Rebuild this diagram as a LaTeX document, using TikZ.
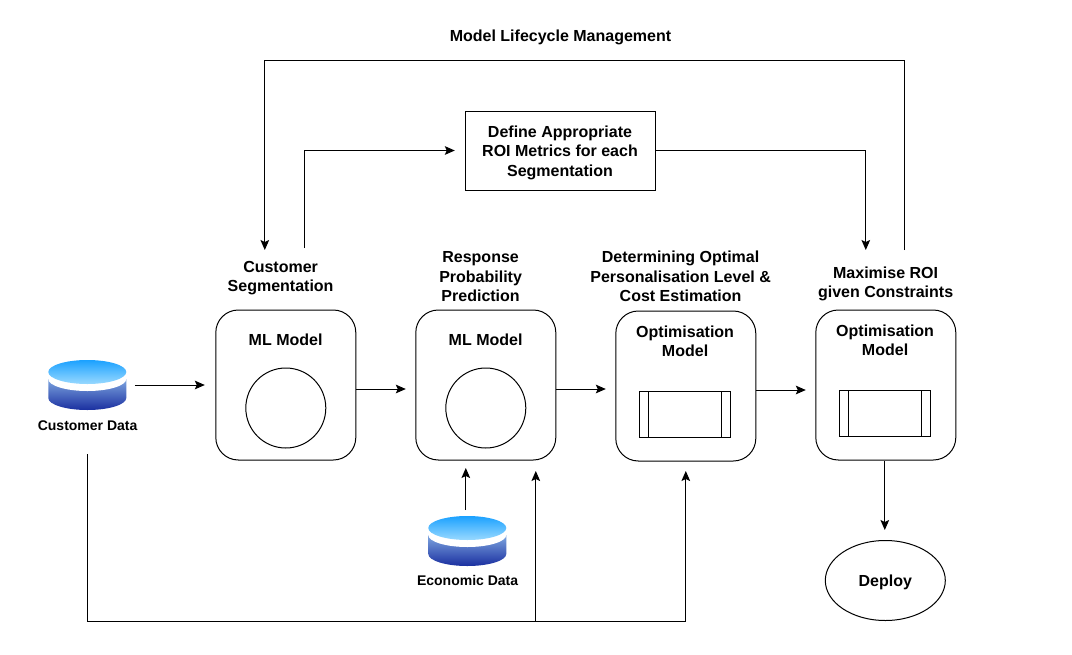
\documentclass[tikz,border=0pt]{standalone}
\usepackage{fontspec}
\setmainfont{Liberation Sans}
\usetikzlibrary{arrows.meta,calc,shapes.geometric}
\definecolor{cyltop}{HTML}{1BA1FF}
\definecolor{cylmid}{HTML}{99D9FF}
\definecolor{bodytop}{HTML}{7EA6E0}
\definecolor{bodybot}{HTML}{1A2FA0}
\tikzset{
 x=0.75pt,y=-0.75pt,
 lbl/.style={font=\bfseries\fontsize{12}{14.6}\selectfont,align=center,inner sep=0pt,text=black,text depth=0pt},
 smalllbl/.style={font=\bfseries\fontsize{10.5}{12}\selectfont,align=center,inner sep=0pt,text=black},
 modelbox/.style={draw=black,line width=0.75pt,rounded corners=16.875pt,minimum width=105pt,minimum height=112.5pt,inner sep=0pt},
 circ/.style={draw=black,line width=0.75pt,circle,minimum size=60pt,inner sep=0pt},
 procbox/.style={draw=black,line width=0.75pt,minimum width=68.25pt,minimum height=34.5pt,inner sep=0pt},
 roibox/.style={draw=black,line width=0.75pt,minimum width=142.5pt,minimum height=59.25pt,inner sep=0pt},
 cylslot/.style={minimum width=58.5pt,minimum height=37.5pt,inner sep=0pt},
 conn/.style={line width=0.75pt,-{Stealth[length=7.5pt,width=6.5pt,inset=1.5pt]}}
}
\newcommand{\drawcyl}[1]{%
 \shade[top color=bodytop,bottom color=bodybot,draw=none]
  ($(#1)+(-39,-6)$) -- ($(#1)+(-39,13)$) arc[start angle=180,end angle=0,x radius=39,y radius=12] -- ($(#1)+(39,-6)$) -- cycle;
 \fill[white] ($(#1)+(-39,-13)$) -- ($(#1)+(-39,-6)$) arc[start angle=180,end angle=0,x radius=39,y radius=12] -- ($(#1)+(39,-13)$) -- cycle;
 \shade[top color=cyltop,bottom color=cylmid,draw=none] ($(#1)+(0,-13)$) ellipse[x radius=39,y radius=12];
}
\begin{document}
\begin{tikzpicture}
\useasboundingbox (0.2,0) rectangle (1072.2,654);
\fill[white] (0.2,0) rectangle (1072.2,654);

\node[lbl] (title) at (560.7,35.5) {Model Lifecycle Management};
\node[roibox] (roi) at (561,150.5) {};
\node[lbl] (roit) at (560.2,151) {Define Appropriate\\ROI Metrics for each\\Segmentation};

\node[lbl] (lseg) at (280.8,276.5) {Customer\\Segmentation};
\node[lbl] (lresp) at (480.8,276.5) {Response\\Probability\\Prediction};
\node[lbl] (lopt) at (680.8,276.5) {Determining Optimal\\Personalisation Level \&\\Cost Estimation};
\node[lbl] (lmax) at (885.8,282) {Maximise ROI\\given Constraints};

\node[modelbox] (m1) at (286,385) {};
\node[modelbox] (m2) at (486,385) {};
\node[modelbox] (m3) at (686,386) {};
\node[modelbox] (m4) at (886,385) {};

\node[lbl] (m1t) at (285.8,340) {ML Model};
\node[lbl] (m2t) at (485.8,340) {ML Model};
\node[lbl] (m3t) at (685.3,341) {Optimisation\\Model};
\node[lbl] (m4t) at (885.3,340) {Optimisation\\Model};

\node[circ] (c1) at (286,408) {};
\node[circ] (c2) at (486,408) {};
\node[procbox] (p3) at (685.5,414.5) {};
\draw[line width=0.75pt] ($(p3.north west)+(9.5,0)$) -- ($(p3.south west)+(9.5,0)$);
\draw[line width=0.75pt] ($(p3.north east)+(-9.5,0)$) -- ($(p3.south east)+(-9.5,0)$);
\node[procbox] (p4) at (885.5,413.5) {};
\draw[line width=0.75pt] ($(p4.north west)+(9.5,0)$) -- ($(p4.south west)+(9.5,0)$);
\draw[line width=0.75pt] ($(p4.north east)+(-9.5,0)$) -- ($(p4.south east)+(-9.5,0)$);

\node[cylslot] (cd) at (87.5,385) {};
\drawcyl{cd}
\node[smalllbl] (cdl) at (87.8,426) {Customer Data};
\node[cylslot] (ed) at (467.5,541) {};
\drawcyl{ed}
\node[smalllbl] (edl) at (467.8,580) {Economic Data};

\node[draw=black,line width=0.75pt,ellipse,minimum width=90pt,minimum height=60pt,inner sep=0pt] (dep) at (885.5,580.5) {};
\node[lbl] (dept) at (885.5,581) {Deploy};

% free ends of connectors
\coordinate (lifeS) at (905,250);
\coordinate (lifeE) at (265,250);
\coordinate (segS) at (305,248);
\coordinate (roiW) at (455,150.5);
\coordinate (roiE) at (866,250);
\coordinate (cdS) at (135,385);
\coordinate (cdE) at (205,385);
\coordinate (m1E) at (406,389);
\coordinate (m2E) at (606,389);
\coordinate (m3E) at (806,390);
\coordinate (edS) at (466,510);
\coordinate (edE) at (466,468);
\coordinate (busS) at (88,454);
\coordinate (busL) at (88,621);
\coordinate (busM) at (536,621);
\coordinate (busR) at (686,621);
\coordinate (busMe) at (536,471);
\coordinate (busRe) at (686,471);
\coordinate (depS) at (885,461);
\coordinate (depE) at (885,530);

\draw[conn] (lifeS) -- (905,60) -- (265,60) -- (lifeE);
\draw[conn] (segS) -- (305,150.5) -- (roiW);
\draw[conn] (roi.east) -- (866,150.5) -- (roiE);
\draw[conn] (cdS) -- (cdE);
\draw[conn] (m1.east |- m1E) -- (m1E);
\draw[conn] (m2.east |- m2E) -- (m2E);
\draw[conn] (m3.east |- m3E) -- (m3E);
\draw[conn] (edS) -- (edE);
\draw[conn] (busS) -- (busL) -- (busR) -- (busRe);
\draw[conn] (busM) -- (busMe);
\draw[conn] (depS) -- (depE);
\end{tikzpicture}
\end{document}
